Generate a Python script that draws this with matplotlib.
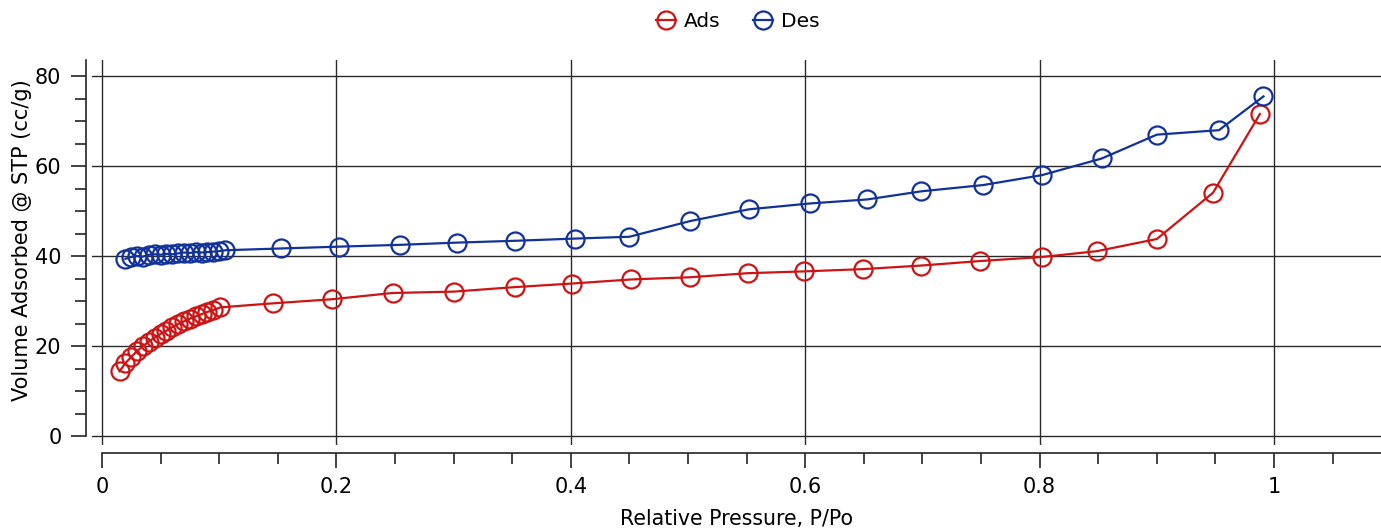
import numpy as np
import matplotlib.pyplot as plt
from matplotlib.ticker import MultipleLocator

# Adsorption branch
ads_p = [0.015, 0.02, 0.025, 0.03, 0.035, 0.04, 0.045, 0.05, 0.055, 0.06,
         0.065, 0.07, 0.075, 0.08, 0.085, 0.09, 0.095, 0.101,
         0.146, 0.196, 0.248, 0.300, 0.352, 0.401, 0.451, 0.502, 0.551,
         0.599, 0.649, 0.699, 0.749, 0.802, 0.849, 0.900, 0.948, 0.988]
ads_v = [14.4, 16.2, 17.6, 18.9, 20.0, 21.0, 21.9, 22.7, 23.4, 24.2,
         24.9, 25.5, 26.1, 26.6, 27.1, 27.6, 28.0, 28.6,
         29.5, 30.4, 31.8, 32.1, 33.1, 33.9, 34.8, 35.3, 36.2,
         36.6, 37.1, 37.9, 38.9, 39.8, 41.1, 43.8, 54.1, 71.6]

# Desorption branch
des_p = [0.02, 0.025, 0.03, 0.035, 0.04, 0.045, 0.05, 0.055, 0.06, 0.065,
         0.07, 0.075, 0.08, 0.085, 0.09, 0.095, 0.1, 0.105,
         0.153, 0.202, 0.254, 0.303, 0.352, 0.404, 0.450, 0.502, 0.552,
         0.604, 0.653, 0.699, 0.752, 0.802, 0.853, 0.900, 0.953, 0.991]
des_v = [39.4, 39.8, 40.0, 39.9, 40.3, 40.4, 40.3, 40.5, 40.4, 40.6,
         40.8, 40.7, 40.9, 40.8, 40.9, 41.0, 41.1, 41.3,
         41.7, 42.1, 42.5, 43.0, 43.4, 43.9, 44.3, 47.8, 50.4,
         51.7, 52.6, 54.4, 55.8, 58.0, 61.7, 67.0, 68.0, 75.5]

RED = '#cc1414'
BLUE = '#12329a'

plt.rcParams['font.family'] = 'DejaVu Sans'

W, H = 1381, 529
fig = plt.figure(figsize=(W / 100, H / 100), dpi=100)
ax = fig.add_axes([92 / W, 1 - 445 / H, (W - 92) / W, (445 - 60) / H])

ax.plot(ads_p, ads_v, '-o', color=RED, mfc='none', mec=RED, ms=13, mew=1.6,
        lw=1.6, label='Ads', zorder=3)
ax.plot(des_p, des_v, '-o', color=BLUE, mfc='none', mec=BLUE, ms=13, mew=1.6,
        lw=1.6, label='Des', zorder=3)

ax.set_xlim(-10 / 1172, 1279 / 1172)
ax.set_ylim(-2, 83.6)

ax.xaxis.set_major_locator(MultipleLocator(0.2))
ax.xaxis.set_minor_locator(MultipleLocator(0.05))
ax.yaxis.set_major_locator(MultipleLocator(20))
ax.yaxis.set_minor_locator(MultipleLocator(5))
ax.set_xticks([0, 0.2, 0.4, 0.6, 0.8, 1.0])
ax.set_xticklabels(['0', '0.2', '0.4', '0.6', '0.8', '1'])

ax.grid(True, which='major', color='#2a2a2a', lw=1.0)

for s in ['top', 'right']:
    ax.spines[s].set_visible(False)
ax.spines['left'].set_position(('outward', 4))
ax.spines['left'].set_bounds(0, 83.6)
ax.spines['bottom'].set_position(('outward', 6))
ax.spines['bottom'].set_bounds(0, 1279 / 1172)
for s in ['left', 'bottom']:
    ax.spines[s].set_linewidth(1.2)
    ax.spines[s].set_color('#222222')

ax.tick_params(axis='both', which='major', length=11, width=1.2,
               color='#222222', labelsize=15)
ax.tick_params(axis='x', which='major', pad=6)
ax.tick_params(axis='y', which='major', pad=7)
ax.tick_params(axis='both', which='minor', length=8, width=1.2,
               color='#222222')

ax.set_xlabel('Relative Pressure, P/Po', fontsize=14.8, va='baseline')
ax.set_ylabel('Volume Adsorbed @ STP (cc/g)', fontsize=15, va='center')
ax.xaxis.set_label_coords(0.5, -80 / 385)
ax.yaxis.set_label_coords(-70 / 1289, 0.532)

fig.legend(loc='upper center', bbox_to_anchor=(0.5343, 1.012), ncol=2,
           frameon=False, fontsize=14.5, handlelength=1.0, handletextpad=0.4,
           columnspacing=1.6)

fig.savefig('out.png', dpi=100)
